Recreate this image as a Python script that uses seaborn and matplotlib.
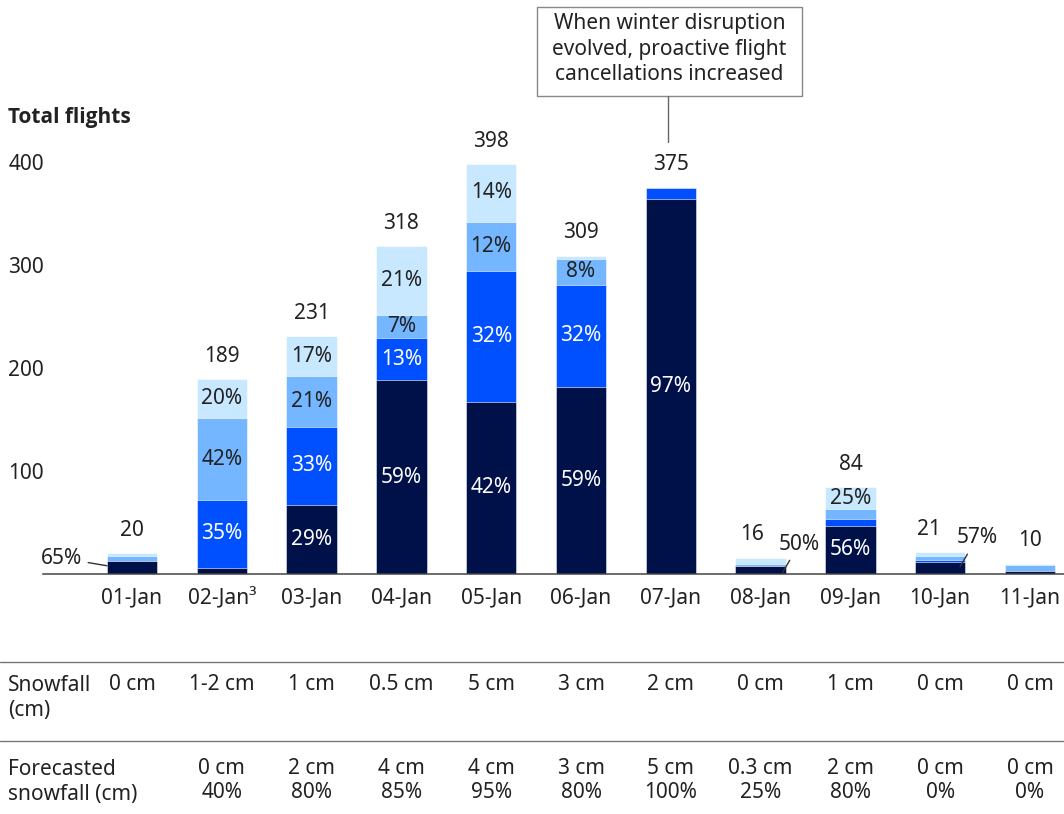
import matplotlib
matplotlib.use("Agg")
import matplotlib.pyplot as plt
import seaborn as sns
import numpy as np
import pandas as pd
from matplotlib.patches import Rectangle
from matplotlib.lines import Line2D

sns.set_style("white")
plt.rcParams['font.family'] = ['Noto Sans', 'DejaVu Sans']
FS = 15
plt.rcParams['font.size'] = FS

# ---------------- data ----------------
dates = ["01-Jan", "02-Jan\u00b3", "03-Jan", "04-Jan", "05-Jan", "06-Jan",
         "07-Jan", "08-Jan", "09-Jan", "10-Jan", "11-Jan"]
totals = [20, 189, 231, 318, 398, 309, 375, 16, 84, 21, 10]
dark = [13, 6, 67, 188, 167, 182, 364, 8, 47, 12, 3]
bright = [0, 66, 76, 41, 127, 99, 11, 0, 6, 2, 0]
light = [4, 79, 49, 22, 48, 25, 0, 2, 10, 3, 6]
vlight = [3, 38, 39, 67, 56, 3, 0, 6, 21, 4, 1]

dark_pct = ["", "", "29%", "59%", "42%", "59%", "97%", "", "56%", "", ""]
bright_pct = ["", "35%", "33%", "13%", "32%", "32%", "", "", "", "", ""]
light_pct = ["", "42%", "21%", "7%", "12%", "8%", "", "", "", "", ""]
vlight_pct = ["", "20%", "17%", "21%", "14%", "", "", "", "25%", "", ""]

# small-bar percentages shown outside with leader lines
outside_idx = [0, 7, 9]
outside_pct = ["65%", "50%", "57%"]

snowfall = ["0 cm", "1-2 cm", "1 cm", "0.5 cm", "5 cm", "3 cm", "2 cm",
            "0 cm", "1 cm", "0 cm", "0 cm"]
forecast_cm = ["", "0 cm", "2 cm", "4 cm", "4 cm", "3 cm", "5 cm", "0.3 cm",
               "2 cm", "0 cm", "0 cm"]
forecast_prob = ["", "40%", "80%", "85%", "95%", "80%", "100%", "25%",
                 "80%", "0%", "0%"]

y_ticks = [100, 200, 300, 400]
annotation_text = "When winter disruption\nevolved, proactive flight\ncancellations increased"

# ---------------- styles ----------------
C_DARK = "#00114A"
C_BRIGHT = "#0050FF"
C_LIGHT = "#74B6FF"
C_VLIGHT = "#C7E8FF"
TXT = "#222222"

W, H = 1064, 814
fig = plt.figure(figsize=(W / 100, H / 100), dpi=100)

# axes geometry in pixels
ax_left_px, ax_right_px = 43, 1064
base_px = 574
px_per_unit_y = 1.03
ymax = 430
top_px = base_px - px_per_unit_y * ymax
ax = fig.add_axes([ax_left_px / W, (H - base_px) / H,
                   (ax_right_px - ax_left_px) / W, (base_px - top_px) / H])

df = pd.DataFrame({"date": dates, "dark": dark, "bright": bright,
                   "light": light, "vlight": vlight})
df["c1"] = df["dark"]
df["c2"] = df["c1"] + df["bright"]
df["c3"] = df["c2"] + df["light"]
df["c4"] = df["c3"] + df["vlight"]

bw = 0.56
for col, colr in [("c4", C_VLIGHT), ("c3", C_LIGHT), ("c2", C_BRIGHT), ("c1", C_DARK)]:
    sns.barplot(data=df, x="date", y=col, color=colr, saturation=1, width=bw,
                ax=ax, edgecolor="white", linewidth=0.4, order=dates)

ax.set_xlabel("")
ax.set_ylabel("")
spacing = 89.8
xl = -(132 - ax_left_px) / spacing
xr = xl + (ax_right_px - ax_left_px) / spacing
ax.set_xlim(xl, xr)
ax.set_ylim(0, ymax)

for s in ["top", "right", "left"]:
    ax.spines[s].set_visible(False)
ax.spines["bottom"].set_color("#444444")
ax.spines["bottom"].set_linewidth(1.1)

ax.set_yticks(y_ticks)
ax.set_yticklabels([str(v) for v in y_ticks])
ax.tick_params(axis="y", length=0, pad=25, labelsize=FS, labelcolor=TXT)
for lab in ax.get_yticklabels():
    lab.set_horizontalalignment("left")
ax.tick_params(axis="x", length=0, pad=10, labelsize=FS, labelcolor=TXT)

# segment labels
x = np.arange(len(dates))
layers = [(df["dark"], df["c1"] - df["dark"], dark_pct, "white"),
          (df["bright"], df["c2"] - df["bright"], bright_pct, "white"),
          (df["light"], df["c3"] - df["light"], light_pct, TXT),
          (df["vlight"], df["c4"] - df["vlight"], vlight_pct, TXT)]
for vals, bots, labs, tc in layers:
    for i in range(len(dates)):
        if labs[i]:
            ax.text(x[i], bots[i] + vals[i] / 2, labs[i], ha="center", va="center",
                    color=tc, fontsize=FS)

# totals
total_dx = {7: -0.09, 9: -0.13}
for i, t in enumerate(totals):
    ax.annotate(str(t), xy=(x[i] + total_dx.get(i, 0), t), xytext=(0, 9),
                textcoords="offset points", ha="center", va="bottom",
                fontsize=FS, color=TXT)

# outside percentages with leader lines
out_xy = {0: ((-0.28, 8), (-0.555, 15.5), "right"),
          7: ((7.245, 1.5), (7.43, 29), "center"),
          9: ((9.22, 7), (9.41, 35), "center")}
for k, i in enumerate(outside_idx):
    pt, tp, ha = out_xy[i]
    ax.annotate(outside_pct[k], xy=pt, xytext=tp, ha=ha, va="center",
                fontsize=FS, color=TXT,
                arrowprops=dict(arrowstyle="-", color="#333333", lw=1,
                                shrinkA=2, shrinkB=0))

# Title of y-axis
fig.text(8 / W, 1 - 117 / H, "Total flights", fontsize=FS, fontweight="bold",
         family=["Open Sans", "Noto Sans", "DejaVu Sans"],
         color=TXT, ha="left", va="center")

# annotation box
bx0, bx1, by0, by1 = 537, 802, 7, 96
fig.add_artist(Rectangle((bx0 / W, 1 - by1 / H), (bx1 - bx0) / W, (by1 - by0) / H,
                         transform=fig.transFigure, fill=False,
                         edgecolor="#888888", linewidth=1))
fig.text((bx0 + bx1) / 2 / W, 1 - 49 / H, annotation_text, ha="center",
         va="center", fontsize=FS, color=TXT, linespacing=1.3)
fig.add_artist(Line2D([668 / W, 668 / W], [1 - by1 / H, 1 - 142 / H],
                      transform=fig.transFigure, color="#666666", linewidth=1))

# table below
for ypx in [662, 741]:
    fig.add_artist(Line2D([0, 1], [1 - ypx / H, 1 - ypx / H],
                          transform=fig.transFigure, color="#777777", linewidth=1))

def col_x(i):
    return (132 + spacing * i) / W

fig.text(8 / W, 1 - 675 / H, "Snowfall\n(cm)", ha="left", va="top",
         fontsize=FS, color=TXT, linespacing=1.25)
for i, s in enumerate(snowfall):
    fig.text(col_x(i), 1 - 685 / H, s, ha="center", va="center", fontsize=FS, color=TXT)

fig.text(8 / W, 1 - 759 / H, "Forecasted\nsnowfall (cm)", ha="left", va="top",
         fontsize=FS, color=TXT, linespacing=1.25)
for i in range(len(dates)):
    if forecast_cm[i]:
        fig.text(col_x(i), 1 - 769 / H, forecast_cm[i], ha="center", va="center",
                 fontsize=FS, color=TXT)
        fig.text(col_x(i), 1 - 793 / H, forecast_prob[i], ha="center", va="center",
                 fontsize=FS, color=TXT)

fig.savefig("out.png", dpi=100)
